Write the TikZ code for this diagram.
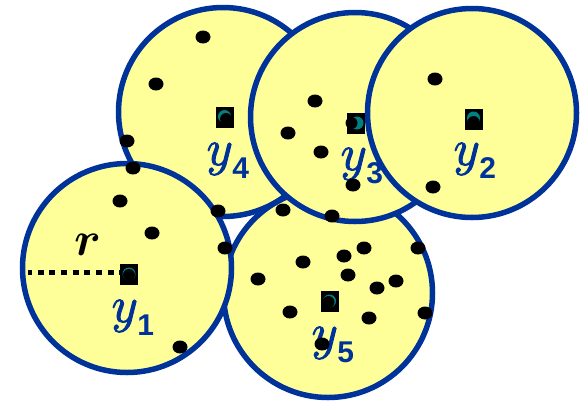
\RequirePackage{fix-cm}
\documentclass[tikz,border=0pt]{standalone}
\usepackage{fontspec}
\newfontfamily\arialfont{Liberation Sans}
\usetikzlibrary{shapes.geometric}
\definecolor{cblue}{HTML}{003399}
\definecolor{cyel}{HTML}{FFFF99}
\definecolor{cteal}{HTML}{008080}
\newcommand{\heavy}[1]{\special{pdf:literal direct 2 Tr 1 w}#1\special{pdf:literal direct 0 Tr}}
\newcommand{\ylab}[1]{\heavy{$y$}\kern-0.5pt\raisebox{-13pt}{\arialfont\bfseries\fontsize{30}{34}\selectfont #1}}
\tikzset{
  circ/.style={circle, draw=cblue, fill=cyel, line width=5.5pt, minimum size=209pt, inner sep=0pt},
  pt/.style={ellipse, fill=black, minimum width=15pt, minimum height=13pt, inner sep=0pt},
  ctr/.style={rectangle, fill=black, minimum width=18pt, minimum height=21pt, inner sep=0pt},
  ring/.style={circle, fill=cteal, minimum size=13pt, inner sep=0pt},
  cdot/.style={circle, fill=black, minimum size=12pt, inner sep=0pt},
  lbl/.style={anchor=base west, inner sep=0pt, text=cblue, font=\fontsize{51}{56}\selectfont},
  rlbl/.style={anchor=base west, inner sep=0pt, text=black, font=\fontsize{48}{56}\selectfont\mathversion{bold}},
  radius line/.style={line width=5pt, dash pattern=on 6pt off 5.67pt, dash phase=2pt},
}
\begin{document}
\begin{tikzpicture}[x=1pt,y=-1pt]
\useasboundingbox (0,0) rectangle (585,402);
% circles
\node[circ] (c5) at (328,293) {};
\node[circ] (c4) at (223,112) {};
\node[circ] (c3) at (355,117) {};
\node[circ] (c2) at (472,113) {};
\node[circ] (c1) at (127,268) {};
% centres
\node[ctr] (s1) at (129,274) {};
\node[ring] (t1) at (129,274) {};
\node[cdot] (d1) at (129,275) {};
\node[ctr] (s4) at (225,117) {};
\node[ring] (t4) at (224.5,116.5) {};
\node[cdot] (d4) at (226,119) {};
\node[ctr] (s3) at (356,123) {};
\node[ring] (t3) at (357,123) {};
\node[cdot] (d3) at (351.5,123) {};
\node[ctr] (s2) at (473.5,119) {};
\node[ring] (t2) at (473.5,118) {};
\node[cdot] (d2) at (473.5,122) {};
\node[ctr] (s5) at (329.5,301) {};
\node[ring] (t5) at (329.5,301) {};
\node[cdot] (d5) at (328.5,302) {};
% radius
\coordinate (rend) at (28,272);
\draw[radius line] (rend) -- (s1.west |- rend);
\node[rlbl] (rl) at (74,255) {$r$};
% labels
\node[lbl] (l1) at (111.5,322) {\ylab{1}};
\node[lbl] (l2) at (453.5,165) {\ylab{2}};
\node[lbl] (l3) at (340.5,170) {\ylab{3}};
\node[lbl] (l4) at (206.5,165) {\ylab{4}};
\node[lbl] (l5) at (311.5,349) {\ylab{5}};
% data points
\node[pt] (p1) at (203,37) {};
\node[pt] (p2) at (156,84) {};
\node[pt] (p3) at (127,141) {};
\node[pt] (p4) at (133,168) {};
\node[pt] (p5) at (120,201) {};
\node[pt] (p6) at (152,233) {};
\node[pt] (p7) at (218,211) {};
\node[pt] (p8) at (225,248) {};
\node[pt] (p9) at (180,347) {};
\node[pt] (p10) at (283,210) {};
\node[pt] (p11) at (332,216) {};
\node[pt] (p12) at (315,101) {};
\node[pt] (p13) at (288,133) {};
\node[pt] (p14) at (321,152) {};
\node[pt] (p15) at (353,185) {};
\node[pt] (p16) at (435,79) {};
\node[pt] (p17) at (433,187) {};
\node[pt] (p18) at (303,262) {};
\node[pt] (p19) at (344,256) {};
\node[pt] (p20) at (364,248) {};
\node[pt] (p21) at (348,275) {};
\node[pt] (p22) at (258,279) {};
\node[pt] (p23) at (396,281) {};
\node[pt] (p24) at (377,288) {};
\node[pt] (p25) at (418,248) {};
\node[pt] (p26) at (290,312) {};
\node[pt] (p27) at (369,318) {};
\node[pt] (p28) at (425,313) {};
\node[pt] (p29) at (322,344) {};
\end{tikzpicture}
\end{document}
